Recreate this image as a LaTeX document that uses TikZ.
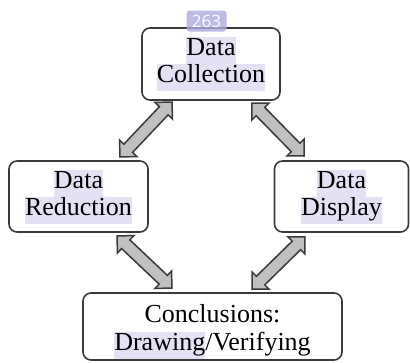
\documentclass[tikz,border=0pt]{standalone}
\usepackage{fontspec}
\setmainfont{Liberation Serif}
\newfontfamily\badgefont{Open Sans}
\usetikzlibrary{calc}
\definecolor{hl}{HTML}{E2E2F4}
\definecolor{badge}{HTML}{ABABDF}
\definecolor{edge}{HTML}{3A3A3A}
\definecolor{arrfill}{HTML}{C0C0C0}
\newcommand\hlt[1]{{\setlength{\fboxsep}{0pt}\colorbox{hl}{\strut #1}}}
\newcommand\blockdbl[2]{%
  \fill[arrfill,draw=edge,line width=1.5pt,line join=miter]
    (#1)
    -- ($(#1)!12pt!(#2)!12pt!90:(#2)$)
    -- ($(#1)!12pt!(#2)!6pt!90:(#2)$)
    -- ($(#2)!12pt!(#1)!6pt!-90:(#1)$)
    -- ($(#2)!12pt!(#1)!12pt!-90:(#1)$)
    -- (#2)
    -- ($(#2)!12pt!(#1)!12pt!90:(#1)$)
    -- ($(#2)!12pt!(#1)!6pt!90:(#1)$)
    -- ($(#1)!12pt!(#2)!6pt!-90:(#2)$)
    -- ($(#1)!12pt!(#2)!12pt!-90:(#2)$)
    -- cycle;}
\begin{document}
\begin{tikzpicture}[x=1pt,y=-1pt,
  stagebox/.style={draw=edge,line width=1.6pt,rounded corners=8pt,fill=white,
    align=center,inner sep=0pt,font=\fontsize{26}{27}\selectfont},
  badgebox/.style={fill=badge,fill opacity=0.8,text opacity=1,rounded corners=3pt,
    text=white,font=\badgefont\fontsize{17}{17}\selectfont,inner sep=0pt,
    minimum width=40pt,minimum height=21pt}]
\useasboundingbox (0,0) rectangle (410,362);
\node[stagebox,minimum width=138pt,minimum height=72pt] (coll) at (211,64)
  {\hlt{Data}\\\hlt{Collection}};
\node[stagebox,minimum width=139pt,minimum height=71pt] (red) at (78.5,196.5)
  {\hlt{Data}\\\hlt{Reduction}};
\node[stagebox,minimum width=134pt,minimum height=71pt] (disp) at (341.5,196.5)
  {\hlt{Data}\\\hlt{Display}};
\node[stagebox,minimum width=259pt,minimum height=67pt] (concl) at (212.5,326.5)
  {\rule{0pt}{29pt}Conclusions:\\[1pt]\hlt{Drawing}/Verifying};
\node[badgebox] (num) at (206.5,21) {263};
\coordinate (a1) at (120,157); \coordinate (b1) at (172,102);
\coordinate (a2) at (252,103); \coordinate (b2) at (304,156);
\coordinate (a3) at (117,236); \coordinate (b3) at (172,288);
\coordinate (a4) at (305,237); \coordinate (b4) at (252,289);
\blockdbl{a1}{b1}
\blockdbl{a2}{b2}
\blockdbl{a3}{b3}
\blockdbl{a4}{b4}
\end{tikzpicture}
\end{document}
